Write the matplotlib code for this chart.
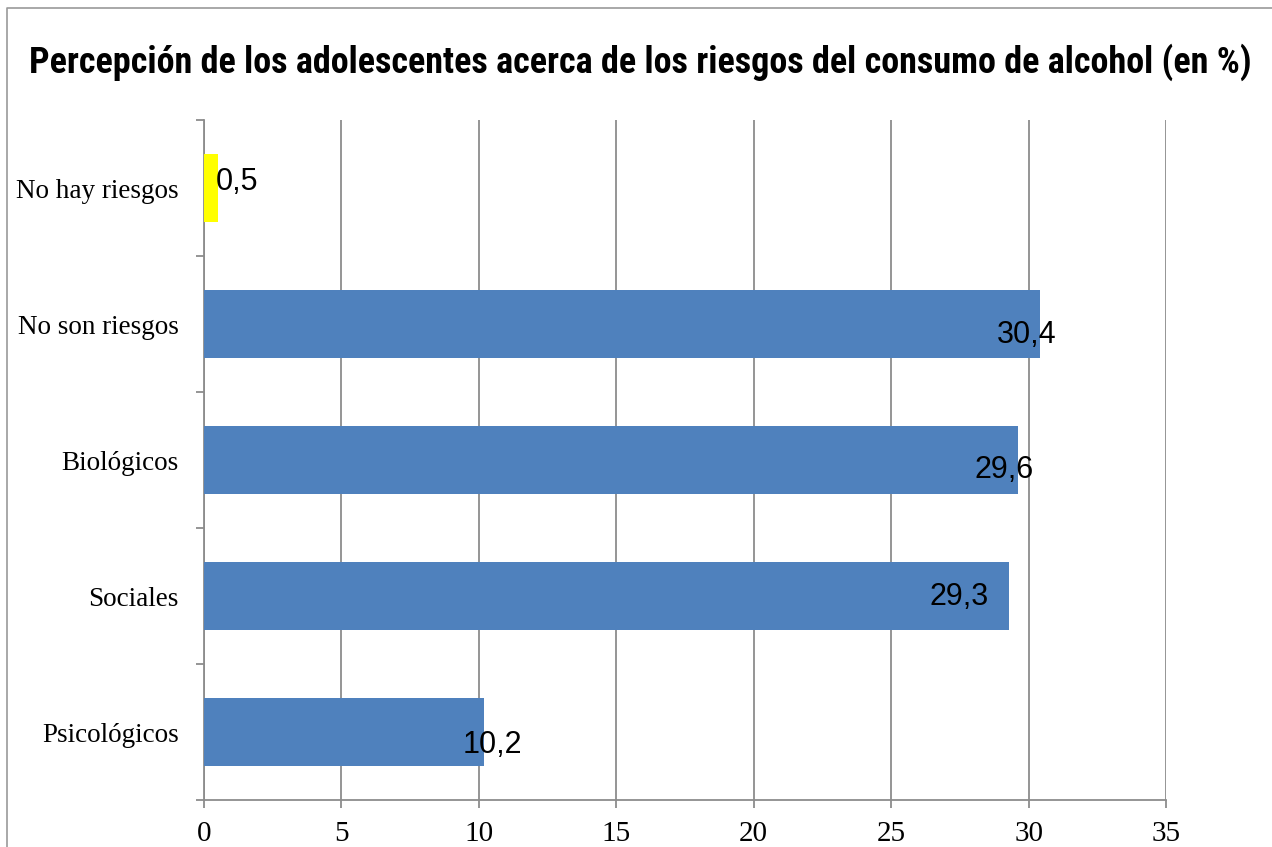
import matplotlib
matplotlib.use("Agg")
import matplotlib.pyplot as plt
from matplotlib.lines import Line2D
from matplotlib import font_manager

# Data, top to bottom
categories = ["No hay riesgos", "No son riesgos", "Biológicos", "Sociales", "Psicológicos"]
values = [0.5, 30.4, 29.6, 29.3, 10.2]
bar_colors = ["#FFFF00", "#4F81BD", "#4F81BD", "#4F81BD", "#4F81BD"]
value_labels = ["0,5", "30,4", "29,6", "29,3", "10,2"]
x_ticks = [0, 5, 10, 15, 20, 25, 30, 35]

# label offsets in points (dx, dy) from bar end / bar centre
label_offsets = [(14, 4), (-9, -8), (-10, -7), (-36, -1), (6, -9)]

grid_color = "#8c8c8c"

# condensed bold face for the title if one is installed
names = {f.name for f in font_manager.fontManager.ttflist}
title_family = "Liberation Sans"
title_size = 21
for cand in ["Roboto Condensed", "Liberation Sans Narrow", "Open Sans Condensed", "DejaVu Sans Condensed"]:
    if cand in names:
        title_family = cand
        title_size = 26
        break

fig = plt.figure(figsize=(12.72, 8.47), dpi=100)
ax = fig.add_axes([204 / 1272, 47 / 847, 962 / 1272, 680 / 847])

n = len(categories)
ypos = list(range(n - 1, -1, -1))
ax.barh(ypos, values, height=0.5, color=bar_colors, zorder=3)

ax.set_xlim(0, 35)
ax.set_ylim(-0.5, n - 0.5)

# vertical gridlines
ax.set_xticks(x_ticks)
ax.set_xticklabels([str(t) for t in x_ticks], family="Liberation Serif", fontsize=21)
ax.grid(axis="x", color=grid_color, linewidth=1.3, zorder=0)
ax.tick_params(axis="x", direction="out", length=6, width=1.3, color=grid_color, pad=9)

# y ticks at category boundaries, labels at centres
ax.set_yticks([i - 0.5 for i in range(n + 1)])
ax.set_yticklabels([])
ax.set_yticks(ypos, minor=True)
ax.set_yticklabels(categories, minor=True, family="Liberation Serif", fontsize=19.5)
ax.tick_params(axis="y", which="major", direction="out", length=6, width=1.3, color=grid_color)
ax.tick_params(axis="y", which="minor", length=0, pad=18)

for side in ["top", "right"]:
    ax.spines[side].set_visible(False)
for side in ["left", "bottom"]:
    ax.spines[side].set_color(grid_color)
    ax.spines[side].set_linewidth(1.3)

# data labels
for y, v, lab, (dx, dy) in zip(ypos, values, value_labels, label_offsets):
    ax.annotate(lab, xy=(v, y), xytext=(dx, dy), textcoords="offset points",
                ha="center", va="center", fontsize=22,
                family="Liberation Sans", zorder=4)

fig.text(0.503, 0.927, "Percepción de los adolescentes acerca de los riesgos del consumo de alcohol (en %)",
         ha="center", va="center", fontsize=title_size, fontweight="bold",
         family=[title_family, "DejaVu Sans"])

# chart frame (only left and top edges visible)
fig.add_artist(Line2D([7 / 1272, 7 / 1272, 1.0], [0.0, 1 - 8 / 847, 1 - 8 / 847],
                      transform=fig.transFigure, color="#9a9a9a", linewidth=1.2))

fig.savefig("out.png", dpi=100)
